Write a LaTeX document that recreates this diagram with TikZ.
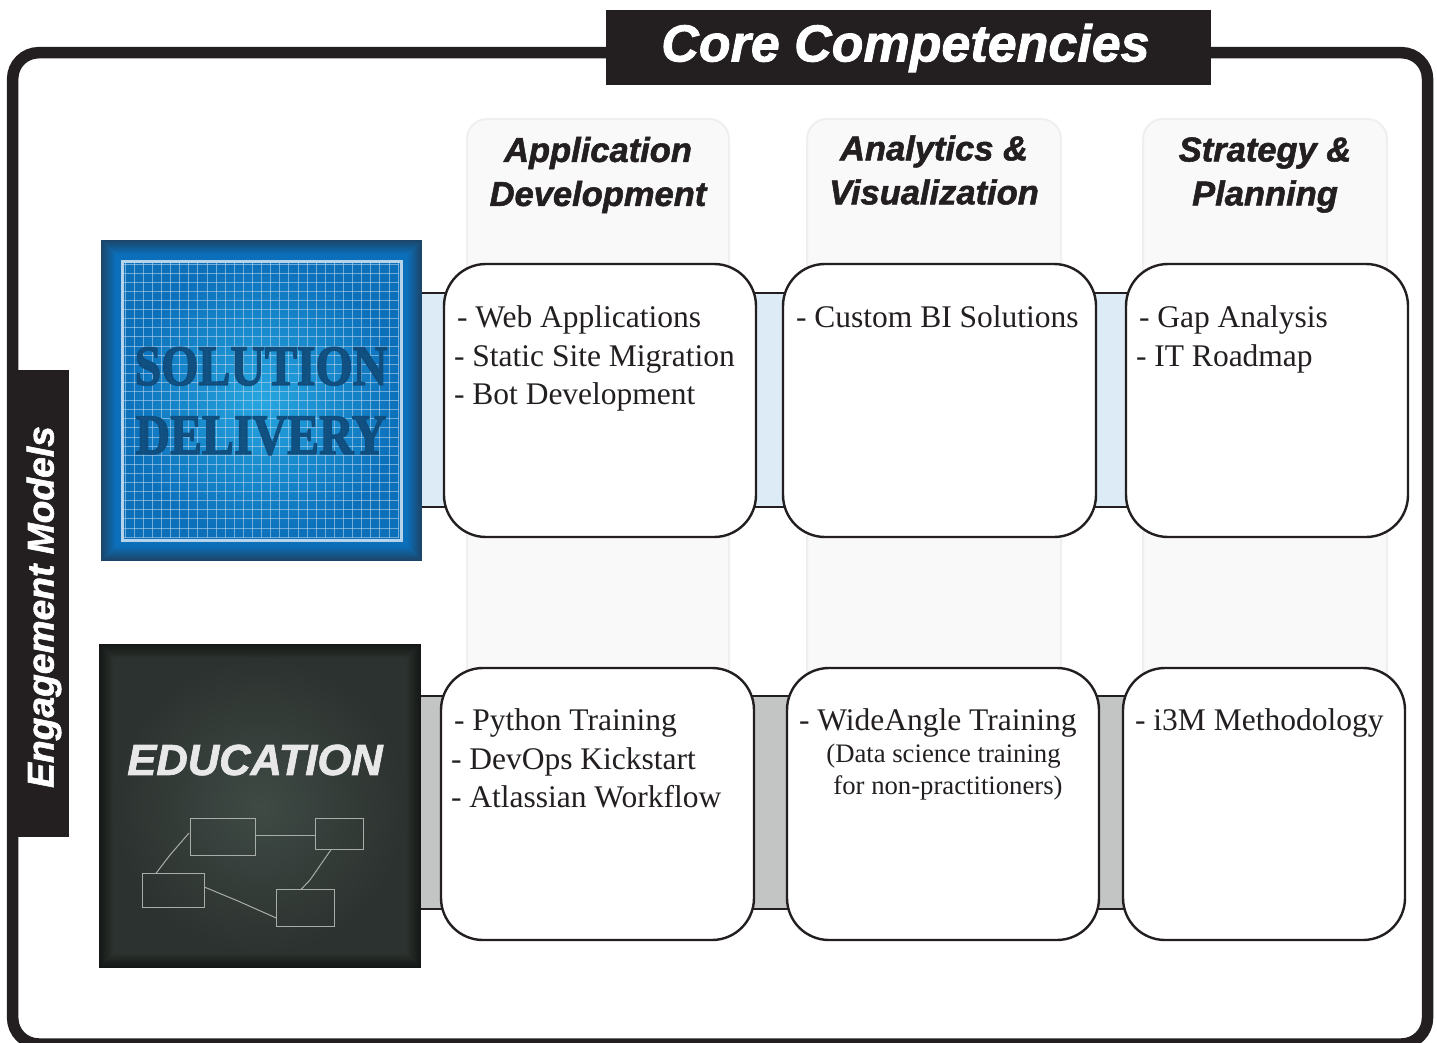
\documentclass[tikz,border=0pt]{standalone}
\usepackage{fontspec}
\setmainfont{Liberation Serif}
\newfontfamily\heavyit[BoldItalicFeatures={FakeBold=1.6}]{Liberation Sans}
\newfontfamily\stencilfont[BoldFeatures={FakeBold=2.5}]{Liberation Serif}
\usetikzlibrary{calc}
\definecolor{ink}{HTML}{231F20}
\definecolor{colfill}{HTML}{F9F9F9}
\definecolor{colline}{HTML}{EFEFEF}
\definecolor{bandblue}{HTML}{DCEBF6}
\definecolor{bandgrey}{HTML}{C3C5C5}
\definecolor{bpdark}{HTML}{1B4568}
\definecolor{bpmid}{HTML}{0B6FBA}
\definecolor{bplight}{HTML}{27A6E0}
\definecolor{bptext}{HTML}{0F4C7C}
\definecolor{bpgrid}{HTML}{B5D3EA}
\definecolor{chalk}{HTML}{3F4A45}
\definecolor{board}{HTML}{2C322F}
\definecolor{boardedge}{HTML}{141715}
\definecolor{chalkline}{HTML}{A9ADA9}
\tikzset{
 x=1pt,y=-1pt,
 every node/.style={outer sep=0pt},
 colbox/.style={draw=colline,fill=colfill,line width=2pt,rounded corners=20pt},
 band/.style={line width=2.2pt,draw=ink},
 card/.style={draw=ink,fill=white,line width=2.4pt,rounded corners=42pt},
 head/.style={font=\heavyit\bfseries\itshape\fontsize{34.5}{44}\selectfont,text=ink,align=center,anchor=center},
 item/.style={font=\fontsize{31.5}{38.5}\selectfont,text=ink,align=left,anchor=north west,inner sep=0pt},
 subitem/.style={font=\fontsize{26.7}{32}\selectfont,text=ink,inner sep=0pt},
 chalkbox/.style={draw=chalkline,line width=1pt},
}
\begin{document}
\begin{tikzpicture}
\useasboundingbox (0,0) rectangle (1437,1043);
% outer frame
\draw[ink,line width=11.5pt,rounded corners=26pt] (12.7,52.7) rectangle (1427.5,1044);
\node[fill=ink,minimum width=605pt,minimum height=75pt,anchor=north west,inner sep=0pt] (title) at (606,10) {};
\node[text=white,font=\heavyit\bfseries\itshape\fontsize{52}{55}\selectfont,inner sep=0pt] (titlet) at (905.5,48) {Core Competencies};
\node[fill=ink,minimum width=52pt,minimum height=467pt,anchor=north west,inner sep=0pt] (side) at (17,370) {};
\node[rotate=90,text=white,font=\heavyit\bfseries\itshape\fontsize{37.2}{40}\selectfont] (sidet) at (44,607) {Engagement Models};
% columns
\draw[colbox] (467,119) rectangle (729,690);
\draw[colbox] (807,119) rectangle (1061,690);
\draw[colbox] (1143,119) rectangle (1387,690);
\node[head] (h1) at (598,175) {Application\\Development};
\node[head] (h2) at (934,170) {Analytics \&\\Visualization};
\node[head] (h3) at (1265,175) {Strategy \&\\Planning};
% bands
\draw[band,fill=bandblue] (415,293) rectangle (1140,507);
\draw[band,fill=bandgrey] (415,696) rectangle (1140,909);
% cards
\draw[card] (444,264) rectangle (756,537);
\draw[card] (783,264) rectangle (1096,537);
\draw[card] (1126,264) rectangle (1408,537);
\draw[card] (441,668) rectangle (754,940);
\draw[card] (787,668) rectangle (1099,940);
\draw[card] (1123,668) rectangle (1405,940);
% texts
\node[item] (t1) at (454,306) {\hspace*{3pt}- Web Applications\\- Static Site Migration\\- Bot Development};
\node[item] (t2) at (796,306) {- Custom BI Solutions};
\node[item] (t3) at (1136,306) {\hspace*{3pt}- Gap Analysis\\- IT Roadmap};
\node[item] (t4) at (451,709) {\hspace*{3pt}- Python Training\\- DevOps Kickstart\\- Atlassian Workflow};
\node[item] (t5) at (799,709) {- WideAngle Training};
\node[subitem] (t5b) at (943.5,756) {(Data science training};
\node[subitem] (t5c) at (948,788) {for non-practitioners)};
\node[item] (t6) at (1135,709) {- i3M Methodology};
% blueprint
\foreach \i in {0,...,15} {
  \pgfmathsetmacro{\mixv}{min(100,\i*7)}
  \fill[bpmid!\mixv!bpdark] ({101+\i},{240+\i}) rectangle ({422-\i},{561-\i});
}
\shade[inner color=bplight,outer color=bpmid] (121,260) rectangle (402,541);
\foreach \i in {0,...,30} {
  \draw[bpgrid,opacity=.6,line width=.7pt] ({125+\i*9.1},263) -- ({125+\i*9.1},538);
  \draw[bpgrid,opacity=.6,line width=.7pt] (124,{264+\i*9.1}) -- (399,{264+\i*9.1});
}
\draw[bpgrid,line width=3pt] (122,261) rectangle (401,540);
\node[font=\stencilfont\bfseries\fontsize{57}{69}\selectfont,text=bptext,align=center,inner sep=0pt,opacity=.93] (sd) at (261,401) {\scalebox{.84}[1]{SOLUTION}\\\scalebox{.84}[1]{DELIVERY}};
% chalkboard
\foreach \i in {0,...,15} {
  \pgfmathsetmacro{\mixv}{min(100,\i*7)}
  \fill[board!\mixv!boardedge] ({99+\i},{644+\i}) rectangle ({421-\i},{968-\i});
}
\shade[inner color=chalk,outer color=board] (114,659) rectangle (406,953);
\node[font=\heavyit\bfseries\itshape\fontsize{43.5}{50}\selectfont,text=white!82!gray,inner sep=0pt] (edu) at (255,760) {EDUCATION};
\node[chalkbox,minimum width=64.6pt,minimum height=36.3pt,inner sep=0pt,anchor=north west] (b1) at (190.7,818.7) {};
\node[chalkbox,minimum width=47.6pt,minimum height=31pt,inner sep=0pt,anchor=north west] (b2) at (315.7,818.7) {};
\node[chalkbox,minimum width=62pt,minimum height=34pt,inner sep=0pt,anchor=north west] (b3) at (142.3,873.7) {};
\node[chalkbox,minimum width=58pt,minimum height=37pt,inner sep=0pt,anchor=north west] (b4) at (276.3,889.7) {};
\draw[chalkbox] ($(b1.north east)+(0,16.3)$) -- ($(b2.north west)+(0,16.3)$);
\draw[chalkbox] ($(b1.north west)+(-1.7,14.3)$) -- (170,855) -- ($(b3.north west)+(13.4,0)$);
\draw[chalkbox] ($(b3.north east)+(0,13.3)$) -- (238,901) -- ($(b4.north west)+(0,28.3)$);
\draw[chalkbox] ($(b2.south west)+(15.3,0)$) -- (310,880) -- ($(b4.north west)+(24.4,0)$);
\end{tikzpicture}
\end{document}
